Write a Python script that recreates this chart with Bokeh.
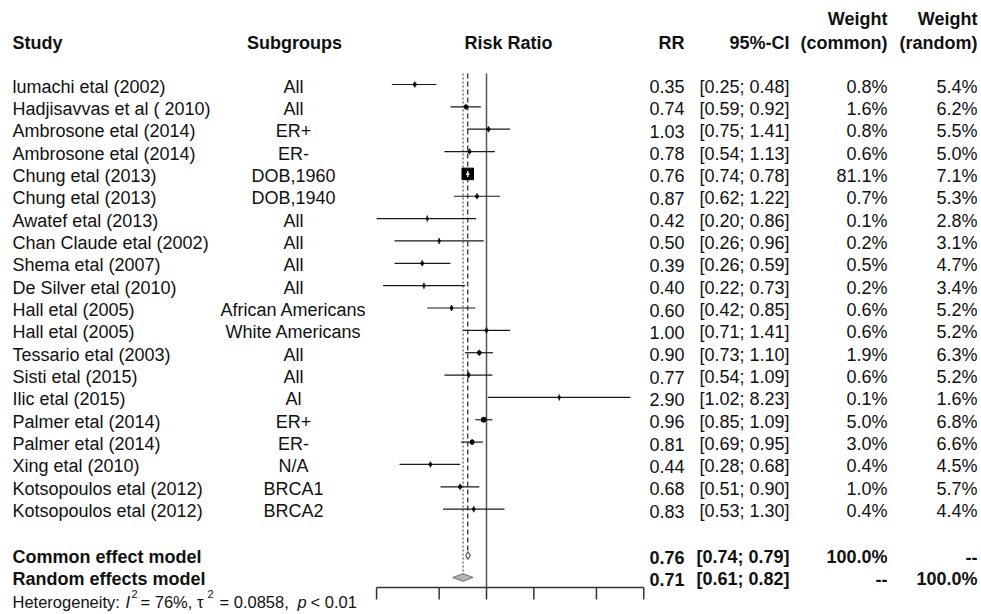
import numpy as np
from bokeh.plotting import figure
from bokeh.models import Range1d, ColumnDataSource
from bokeh.core.properties import value
from bokeh.embed import file_html
from bokeh.resources import INLINE

# ---------------- data ----------------
studies = ["lumachi etal (2002)", "Hadjisavvas et al ( 2010)", "Ambrosone etal (2014)",
           "Ambrosone etal (2014)", "Chung etal (2013)", "Chung etal (2013)",
           "Awatef etal (2013)", "Chan Claude etal (2002)", "Shema etal (2007)",
           "De Silver etal (2010)", "Hall etal (2005)", "Hall etal (2005)",
           "Tessario etal (2003)", "Sisti etal (2015)", "Ilic etal (2015)",
           "Palmer etal (2014)", "Palmer etal (2014)", "Xing etal (2010)",
           "Kotsopoulos etal (2012)", "Kotsopoulos etal (2012)"]
subgroups = ["All", "All", "ER+", "ER-", "DOB,1960", "DOB,1940", "All", "All", "All", "All",
             "African Americans", "White Americans", "All", "All", "Al", "ER+", "ER-", "N/A",
             "BRCA1", "BRCA2"]
rr = [0.35, 0.74, 1.03, 0.78, 0.76, 0.87, 0.42, 0.50, 0.39, 0.40,
      0.60, 1.00, 0.90, 0.77, 2.90, 0.96, 0.81, 0.44, 0.68, 0.83]
ci_low = [0.25, 0.59, 0.75, 0.54, 0.74, 0.62, 0.20, 0.26, 0.26, 0.22,
          0.42, 0.71, 0.73, 0.54, 1.02, 0.85, 0.69, 0.28, 0.51, 0.53]
ci_high = [0.48, 0.92, 1.41, 1.13, 0.78, 1.22, 0.86, 0.96, 0.59, 0.73,
           0.85, 1.41, 1.10, 1.09, 8.23, 1.09, 0.95, 0.68, 0.90, 1.30]
w_common = [0.8, 1.6, 0.8, 0.6, 81.1, 0.7, 0.1, 0.2, 0.5, 0.2,
            0.6, 0.6, 1.9, 0.6, 0.1, 5.0, 3.0, 0.4, 1.0, 0.4]
w_random = [5.4, 6.2, 5.5, 5.0, 7.1, 5.3, 2.8, 3.1, 4.7, 3.4,
            5.2, 5.2, 6.3, 5.2, 1.6, 6.8, 6.6, 4.5, 5.7, 4.4]

summary_labels = ["Common effect model", "Random effects model"]
summary_rr = [0.76, 0.71]
summary_low = [0.74, 0.61]
summary_high = [0.79, 0.82]
summary_wc = ["100.0%", "--"]
summary_wr = ["--", "100.0%"]

axis_ticks = [0.2, 0.5, 1, 2, 5, 10]
header_top = ["Weight", "Weight"]
header_bottom = ["Study", "Subgroups", "Risk Ratio", "RR", "95%-CI", "(common)", "(random)"]
heterogeneity = ["Heterogeneity:", "I", "2", "= 76%, \u03c4", "2", "= 0.0858,", "p", "< 0.01"]

# ---------------- layout helpers ----------------
W, H = 981, 614
X1_PX, PX_PER_LN = 486.0, 68.3      # pixel position of RR = 1, pixels per ln unit
ROW0_PX, ROW_H = 84.0, 22.35        # pixel y of first study row, row pitch


def xd(px):
    return float(np.exp((px - X1_PX) / PX_PER_LN))


def rp(py):
    return 1 + (py - ROW0_PX) / ROW_H


p = figure(width=W, height=H, x_axis_type="log", output_backend="svg",
           toolbar_location=None, x_axis_location=None, y_axis_location=None,
           min_border=0, x_range=Range1d(xd(0), xd(W)), y_range=Range1d(rp(H), rp(0)))
p.grid.visible = False
p.outline_line_color = None
p.background_fill_color = "white"
p.border_fill_color = "white"

FONT = value("Liberation Sans")
FS = "18px"
n = len(studies)
rows = np.arange(1, n + 1, dtype=float)
common_row, random_row = rp(555), rp(577)

# reference lines
top = rp(73)
p.segment(x0=[1], y0=[top], x1=[1], y1=[rp(587)], line_color="#555555", line_width=1.5)
p.segment(x0=[summary_rr[0]], y0=[top], x1=[summary_rr[0]], y1=[common_row - 0.15],
          line_color="#222222", line_width=1.2, line_dash="5 3")
p.segment(x0=[summary_rr[1]], y0=[top], x1=[summary_rr[1]], y1=[random_row - 0.15],
          line_color="#777777", line_width=1.5, line_dash="2 2")

# study CIs, squares and ticks
sq = 10.0 * np.sqrt(np.array(w_common) / max(w_common)) + 1.5
lo_px = PX_PER_LN * np.log(np.array(rr) / np.array(ci_low))
hi_px = PX_PER_LN * np.log(np.array(ci_high) / np.array(rr))
inside = (lo_px < sq / 2) & (hi_px < sq / 2)

src = ColumnDataSource(dict(y=rows, rr=rr, lo=ci_low, hi=ci_high, sq=sq,
                            col=["white" if i else "#111111" for i in inside]))
p.segment(x0="lo", y0="y", x1="hi", y1="y", source=src, line_color="#1a1a1a", line_width=1.2)
p.scatter(x="rr", y="y", size="sq", marker="square", source=src,
          fill_color="black", line_color="black", line_width=1)
p.segment(x0="lo", y0="y", x1="hi", y1="y", source=ColumnDataSource(
    dict(y=rows[inside], lo=np.array(ci_low)[inside], hi=np.array(ci_high)[inside])),
    line_color="white", line_width=1.5)
p.scatter(x="rr", y="y", size=6, marker="dash", angle=np.pi / 2, source=src,
          line_color="col", line_width=1.3)

# summary diamonds
d = 3.8 / ROW_H
srows = [common_row, random_row]
p.patches(xs=[[summary_low[i], summary_rr[i], summary_high[i], summary_rr[i]] for i in range(2)],
          ys=[[srows[i], srows[i] - d, srows[i], srows[i] + d] for i in range(2)],
          fill_color=["white", "#b5b5b5"], line_color=["#555555", "#777777"], line_width=1.2)

# axis
ay = rp(587)
p.segment(x0=[axis_ticks[0]], y0=[ay], x1=[axis_ticks[-1]], y1=[ay], line_color="#333333", line_width=1.5)
p.segment(x0=axis_ticks, y0=[ay] * len(axis_ticks), x1=axis_ticks, y1=[rp(599)] * len(axis_ticks),
          line_color="#333333", line_width=1.5)


# ---------------- text ----------------
def txt(xpx, ys, texts, align="left", style="normal", size=FS, color="#111111"):
    p.text(x=[xd(xpx)] * len(texts), y=list(ys), text=list(texts), text_font=FONT,
           text_font_size=size, text_font_style=style, text_align=align,
           text_baseline="middle", text_color=color)


ty = rows + 2 / ROW_H
txt(12, ty, studies)
txt(293, ty, subgroups, align="center")
txt(684, ty, [f"{v:.2f}" for v in rr], align="right")
txt(789, ty, [f"[{a:.2f}; {b:.2f}]" for a, b in zip(ci_low, ci_high)], align="right")
txt(887, ty, [f"{v:.1f}%" for v in w_common], align="right")
txt(977, ty, [f"{v:.1f}%" for v in w_random], align="right")

sy = [r + 1.5 / ROW_H for r in srows]
txt(12, sy, summary_labels, style="bold")
txt(684, sy, [f"{v:.2f}" for v in summary_rr], align="right", style="bold")
txt(789, sy, [f"[{a:.2f}; {b:.2f}]" for a, b in zip(summary_low, summary_high)], align="right", style="bold")
txt(887, sy, summary_wc, align="right", style="bold")
txt(977, sy, summary_wr, align="right", style="bold")

# headers
h1, h2 = rp(18), rp(42)
txt(887, [h1], [header_top[0]], align="right", style="bold")
txt(977, [h1], [header_top[1]], align="right", style="bold")
txt(12, [h2], [header_bottom[0]], style="bold")
txt(294, [h2], [header_bottom[1]], align="center", style="bold")
txt(508, [h2], [header_bottom[2]], align="center", style="bold")
txt(684, [h2], [header_bottom[3]], align="right", style="bold")
txt(789, [h2], [header_bottom[4]], align="right", style="bold")
txt(887, [h2], [header_bottom[5]], align="right", style="bold")
txt(977, [h2], [header_bottom[6]], align="right", style="bold")

# heterogeneity line
hy, hs = rp(601), rp(593)
HS, SS = "16.5px", "11px"
het_x = [12, 125, 131, 140, 207, 219, 297, 310]
het_y = [hy, hy, hs, hy, hs, hy, hy, hy]
het_style = ["normal", "italic", "normal", "normal", "normal", "normal", "italic", "normal"]
het_size = [HS, HS, SS, HS, SS, HS, HS, HS]
for t, xx, yy, st, sz in zip(heterogeneity, het_x, het_y, het_style, het_size):
    txt(xx, [yy], [t], style=st, size=sz)

open("out.html", "w").write(file_html(p, INLINE))
